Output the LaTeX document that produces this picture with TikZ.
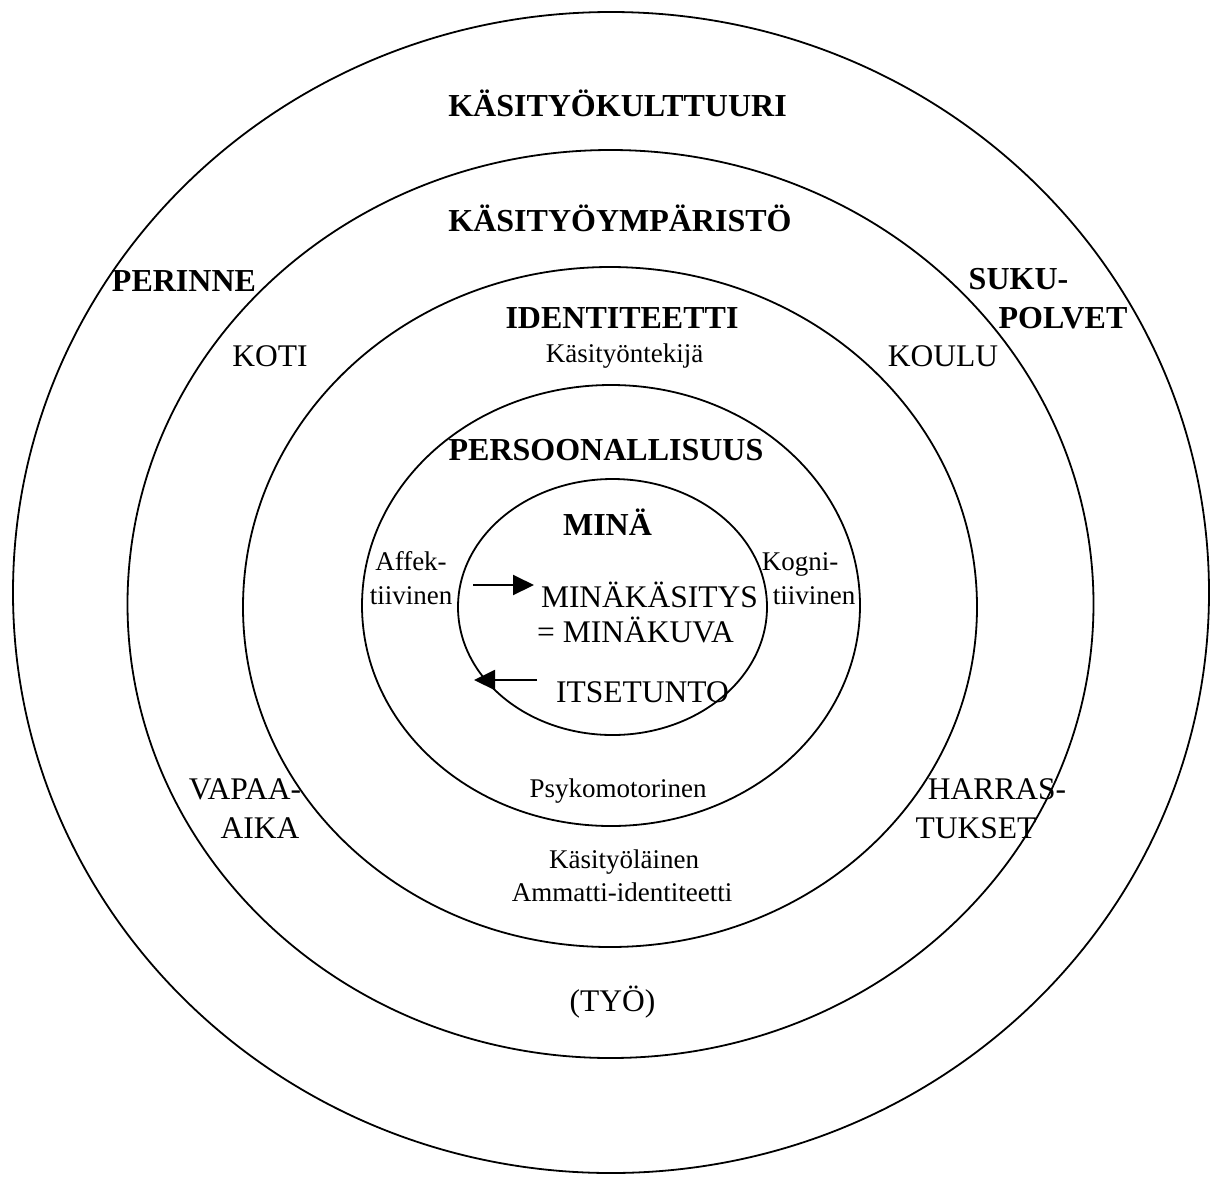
\documentclass[tikz,border=0pt]{standalone}
\usepackage{fontspec}
\setmainfont{Liberation Serif}
\usetikzlibrary{arrows.meta}
\begin{document}
\begin{tikzpicture}[x=1pt,y=-1pt,
  ring/.style={line width=1.8pt},
  lbl/.style={inner sep=0pt, anchor=base, font=\fontsize{31.5}{36}\selectfont},
  blbl/.style={inner sep=0pt, anchor=base, font=\fontsize{32}{36}\selectfont\bfseries},
  slbl/.style={inner sep=0pt, anchor=base, font=\fontsize{27}{30}\selectfont},
  arr/.style={line width=2pt, -{Triangle[length=21pt,width=20pt]}}]
\fill[white] (0,0) rectangle (1213,1179);
\useasboundingbox (0,0) rectangle (1213,1179);

% concentric rings, outermost first
\draw[ring] (611,592.5) ellipse [x radius=598, y radius=580.5];
\draw[ring] (610.5,604) ellipse [x radius=483, y radius=454];
\draw[ring] (610,607) ellipse [x radius=367, y radius=340];
\draw[ring] (611,605.5) ellipse [x radius=249, y radius=220.5];
\draw[ring] (612.5,607) ellipse [x radius=154.5, y radius=128];

% outer ring
\node[blbl] (kulttuuri) at (617.5,116) {KÄSITYÖKULTTUURI};
\node[blbl] (perinne) at (184,291) {PERINNE};
\node[blbl] (suku) at (1018.5,289) {SUKU-};
\node[blbl] (polvet) at (1063,328) {POLVET};

% second ring
\node[blbl] (ymparisto) at (620,231) {KÄSITYÖYMPÄRISTÖ};
\node[lbl] (koti) at (270,366) {KOTI};
\node[lbl] (koulu) at (943,366) {KOULU};
\node[lbl] (vapaa) at (245,799) {VAPAA-};
\node[lbl] (aika) at (260,838) {AIKA};
\node[lbl] (harras) at (997,799) {HARRAS-};
\node[lbl] (tukset) at (976,838) {TUKSET};
\node[lbl] (tyo) at (612.5,1011) {(TYÖ)};

% third ring
\node[blbl] (identiteetti) at (622,328) {IDENTITEETTI};
\node[slbl] (tekija) at (624.5,362) {Käsityöntekijä};
\node[slbl] (laeinen) at (624,868) {Käsityöläinen};
\node[slbl] (ammatti) at (622,901) {Ammatti-identiteetti};

% fourth ring
\node[blbl] (persoona) at (606,460) {PERSOONALLISUUS};
\node[slbl] (affek) at (411,570) {Affek-};
\node[slbl] (tiivA) at (411,604) {tiivinen};
\node[slbl] (kogni) at (800,570) {Kogni-};
\node[slbl] (tiivK) at (814,604) {tiivinen};
\node[slbl] (psyko) at (618,797) {Psykomotorinen};

% core
\node[blbl] (mina) at (607.5,535) {MINÄ};
\node[lbl] (kasitys) at (649.5,607) {MINÄKÄSITYS};
\node[lbl] (kuva) at (635.5,642) {= MINÄKUVA};
\node[lbl] (itsetunto) at (642.5,702) {ITSETUNTO};

\coordinate (inS) at (473,585);
\coordinate (inE) at (534,585);
\coordinate (outS) at (537,680);
\coordinate (outE) at (474,680);
\draw[arr] (inS) -- (inE);
\draw[arr] (outS) -- (outE);
\end{tikzpicture}
\end{document}
